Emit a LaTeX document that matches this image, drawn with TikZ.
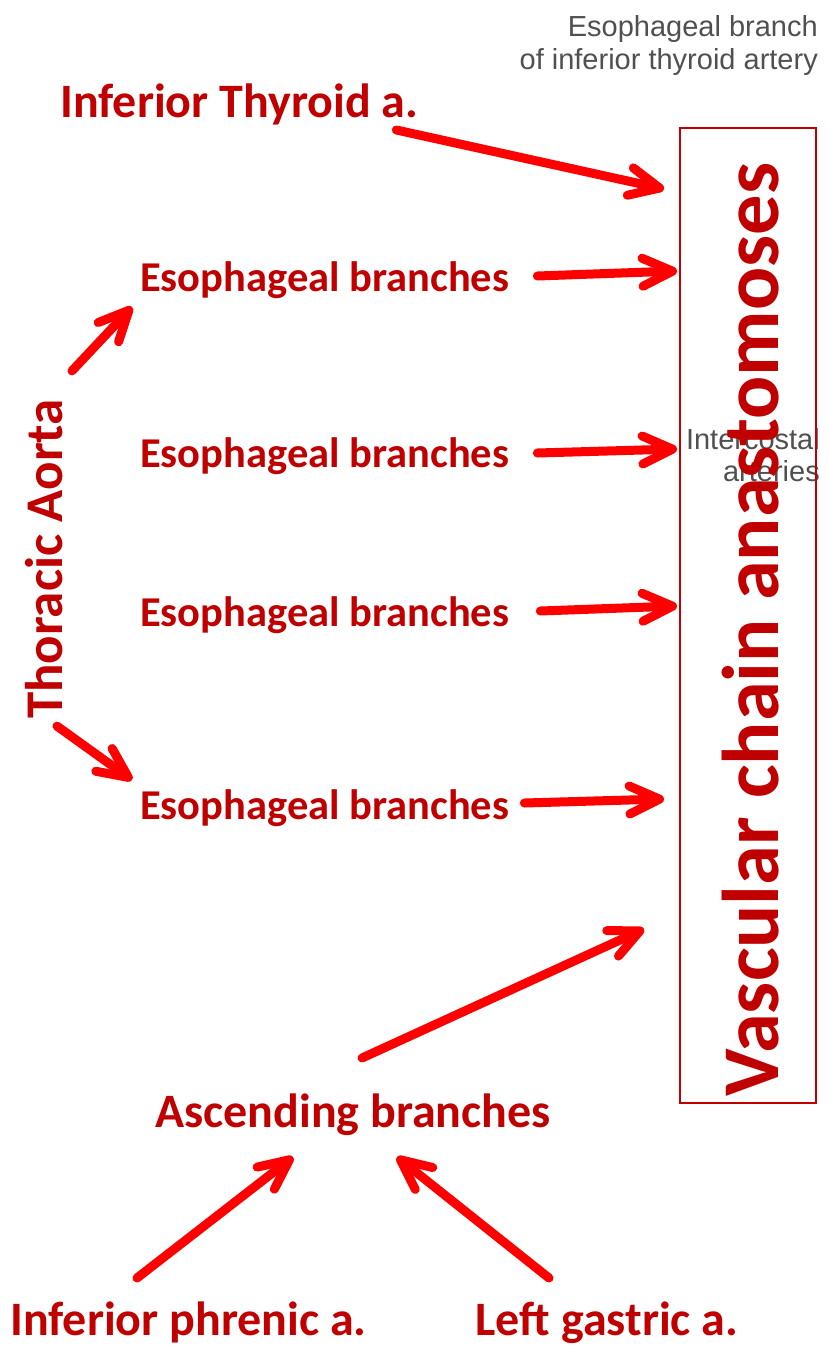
\documentclass[tikz,border=0pt]{standalone}
\usepackage{fontspec}
\setmainfont{Carlito}
\newfontfamily\greyfont{Liberation Sans}
\usetikzlibrary{arrows.meta}
\definecolor{dred}{HTML}{C00000}
\definecolor{bred}{HTML}{FF0000}
\definecolor{gtext}{HTML}{505050}
\begin{document}
\begin{tikzpicture}[x=1pt,y=-1pt,
  lbl/.style={text=dred,font=\bfseries\fontsize{42.5}{50}\selectfont,inner sep=0pt},
  lblbig/.style={text=dred,font=\bfseries\fontsize{48}{56}\selectfont,inner sep=0pt},
  greylbl/.style={text=gtext,font=\greyfont\fontsize{29}{33}\selectfont,inner sep=0pt,anchor=base east},
  arr/.style={draw=bred,line width=9pt,line cap=round,-{Straight Barb[length=30pt,width=28pt,round]}}
]
\useasboundingbox (0,0) rectangle (827,1354);
% grey labels
\node[greylbl] (g1) at (818,37) {Esophageal branch};
\node[greylbl] (g2) at (818,70) {of inferior thyroid artery};
\node[greylbl] (g3) at (820,449) {Intercostal};
\node[greylbl] (g4) at (820,481) {arteries};
% box
\node[draw=dred,line width=2pt,minimum width=136pt,minimum height=975pt,inner sep=0pt] (box) at (748,615.5) {};
\node[text=dred,font=\bfseries\fontsize{80.5}{90}\selectfont,inner sep=0pt,rotate=90,anchor=base] (vas) at (778,630) {Vascular chain anastomoses};
% labels
\node[lblbig,anchor=base west] (thy) at (60,117) {Inferior Thyroid a.};
\node[lbl,anchor=base west] (e1) at (140,291) {Esophageal branches};
\node[lbl,anchor=base west] (e2) at (140,467) {Esophageal branches};
\node[lbl,anchor=base west] (e3) at (140,626) {Esophageal branches};
\node[lbl,anchor=base west] (e4) at (140,819) {Esophageal branches};
\node[text=dred,font=\bfseries\fontsize{53}{62}\selectfont,inner sep=0pt,rotate=90,anchor=base] (ta) at (62,559) {Thoracic Aorta};
\node[lblbig,anchor=base] (asc) at (353,1127) {Ascending branches};
\node[lblbig,anchor=base] (ph) at (188.5,1335) {Inferior phrenic a.};
\node[lblbig,anchor=base] (lg) at (607,1335) {Left gastric a.};
% arrows
\draw[arr] ([shift={(-22,13)}]thy.base east) -- ([shift={(-15,62)}]box.north west);
\draw[arr] ([shift={(28,-15)}]e1.base east) -- ([shift={(-2,144)}]box.north west);
\draw[arr] ([shift={(28,-14)}]e2.base east) -- ([shift={(-2,322)}]box.north west);
\draw[arr] ([shift={(31,-15)}]e3.base east) -- ([shift={(-2,479)}]box.north west);
\draw[arr] ([shift={(15,-16)}]e4.base east) -- ([shift={(-15,672)}]box.north west);
\draw[arr] ([shift={(10,-28)}]ta.base east) -- ([shift={(-8,16)}]e1.base west);
\draw[arr] ([shift={(-5,7)}]ta.base west) -- ([shift={(-8,-39)}]e4.base west);
\draw[arr] ([shift={(9,-69)}]asc.base) -- ([shift={(-35,-175)}]box.south west);
\draw[arr] ([shift={(-51.5,-57)}]ph.base) -- ([shift={(-60,30)}]asc.base);
\draw[arr] ([shift={(-58,-57)}]lg.base) -- ([shift={(44,30)}]asc.base);
\end{tikzpicture}
\end{document}
